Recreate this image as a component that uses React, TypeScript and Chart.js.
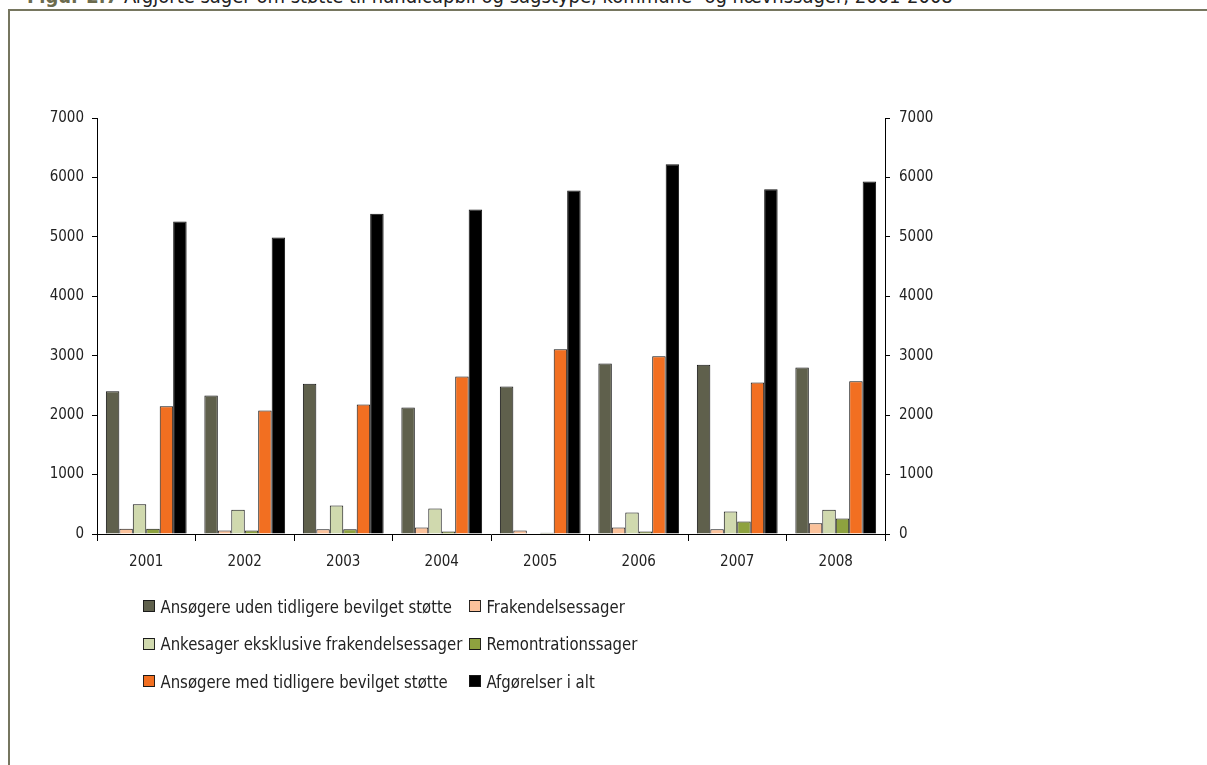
import React, { useEffect, useRef } from "react";
import { Chart, registerables } from "chart.js";

Chart.register(...registerables);

const years = ["2001", "2002", "2003", "2004", "2005", "2006", "2007", "2008"];
const seriesNames = [
  "Ansøgere uden tidligere bevilget støtte",
  "Frakendelsessager",
  "Ankesager eksklusive frakendelsessager",
  "Remontrationssager",
  "Ansøgere med tidligere bevilget støtte",
  "Afgørelser i alt",
];
const udenStotte = [2400, 2330, 2530, 2130, 2480, 2870, 2850, 2800];
const frakendelse = [90, 60, 80, 110, 60, 110, 80, 180];
const ankesager = [500, 410, 480, 430, 0, 360, 380, 410];
const remontration = [90, 60, 80, 40, 20, 40, 210, 260];
const medStotte = [2150, 2080, 2180, 2650, 3110, 2990, 2550, 2570];
const iAlt = [5260, 4990, 5390, 5460, 5780, 6220, 5800, 5930];
const seriesValues = [udenStotte, frakendelse, ankesager, remontration, medStotte, iAlt];
const seriesColors = ["#5f604c", "#fbc29b", "#d0d9ae", "#8ea23f", "#f26f21", "#000000"];
const yTicks = [0, 1000, 2000, 3000, 4000, 5000, 6000, 7000];

const figLabel = "Figur 2.7";
const title = "Afgjorte sager om støtte til handicapbil og sagstype, kommune- og nævnssager, 2001-2008";
const FONT = "'DejaVu Sans Condensed', sans-serif";

export default function App() {
  const ref = useRef<HTMLCanvasElement | null>(null);

  useEffect(() => {
    if (!ref.current) return;
    const tickFont = { family: FONT, size: 15 };
    const chart = new Chart(ref.current, {
      type: "bar",
      data: {
        labels: years,
        datasets: seriesNames.map((name, i) => ({
          label: name,
          data: seriesValues[i],
          backgroundColor: seriesColors[i],
          borderColor: "#111",
          borderWidth: 1,
          barPercentage: 1,
          categoryPercentage: 0.82,
          yAxisID: "y",
        })),
      },
      options: {
        responsive: false,
        animation: false,
        layout: { padding: { top: 118, left: 0, right: 0, bottom: 0 } },
        plugins: { legend: { display: false }, tooltip: { enabled: false }, title: { display: false } },
        scales: {
          x: {
            offset: true,
            grid: { offset: true, drawOnChartArea: false, drawTicks: true, tickLength: 7, color: "#000", tickColor: "#000" },
            border: { display: true, color: "#000", width: 1 },
            ticks: { color: "#222", font: tickFont, padding: 12, maxRotation: 0 },
            afterFit: (s: any) => { s.height = 231; },
          },
          y: {
            position: "left",
            min: 0,
            max: 7000,
            afterBuildTicks: (s: any) => { s.ticks = yTicks.map((v) => ({ value: v })); },
            grid: { drawOnChartArea: false, drawTicks: true, tickLength: 5, color: "#000", tickColor: "#000" },
            border: { display: true, color: "#000", width: 1 },
            ticks: { color: "#222", font: tickFont, padding: 8, callback: (v: any) => String(v) },
            afterFit: (s: any) => { s.width = 97; },
          },
          y2: {
            position: "right",
            min: 0,
            max: 7000,
            afterBuildTicks: (s: any) => { s.ticks = yTicks.map((v) => ({ value: v })); },
            grid: { drawOnChartArea: false, drawTicks: true, tickLength: 5, color: "#000", tickColor: "#000" },
            border: { display: true, color: "#000", width: 1 },
            ticks: { color: "#222", font: tickFont, padding: 9, callback: (v: any) => String(v) },
            afterFit: (s: any) => { s.width = 322; },
          },
        },
      },
    });
    return () => chart.destroy();
  }, []);

  return (
    <div style={{ position: "absolute", left: 0, top: 0, width: 1207, height: 765, overflow: "hidden", background: "#fff", fontFamily: FONT }}>
      <div
        style={{
          position: "absolute",
          left: 27,
          top: -14,
          fontSize: 20,
          lineHeight: "20px",
          whiteSpace: "nowrap",
          color: "#222",
        }}
      >
        <span style={{ fontWeight: "bold", color: "#6b6b4e" }}>{figLabel}</span> {title}
      </div>
      <div
        style={{
          position: "absolute",
          left: 8,
          top: 9,
          width: 1207,
          height: 765,
          borderTop: "2px solid #76765f",
          borderLeft: "2px solid #76765f",
        }}
      />
      <canvas ref={ref} width={1207} height={765} style={{ position: "absolute", left: 0, top: 0, width: 1207, height: 765 }} />
      {seriesNames.map((name, i) => (
        <div
          key={name}
          style={{
            position: "absolute",
            left: 143 + (i % 2) * 326,
            top: 606 + Math.floor(i / 2) * 37.5 - 10,
            height: 20,
            display: "flex",
            alignItems: "center",
            whiteSpace: "nowrap",
            fontSize: 18,
            color: "#222",
            transform: "scaleX(0.92)",
            transformOrigin: "left center",
          }}
        >
          <span
            style={{
              display: "inline-block",
              width: 11,
              height: 10,
              background: seriesColors[i],
              border: "1px solid #1a1a1a",
              marginRight: 6,
            }}
          />
          {name}
        </div>
      ))}
    </div>
  );
}
